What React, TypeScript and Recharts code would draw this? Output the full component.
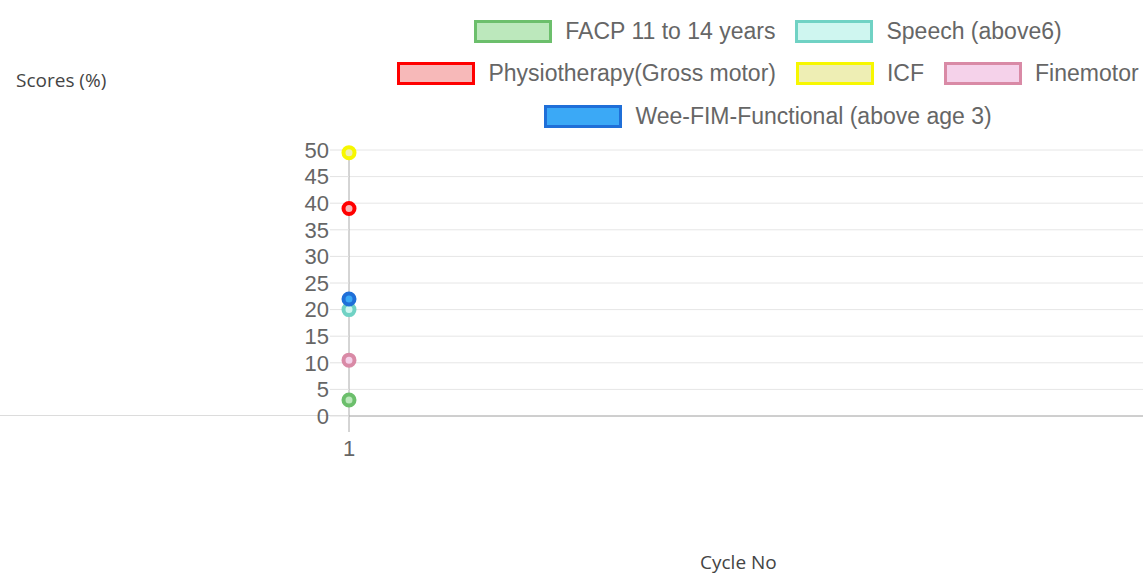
import React from 'react'
import { LineChart, Line, XAxis, YAxis, CartesianGrid } from 'recharts'

// cycle numbers and scores per assessment
const cycles = [1]
const facpScores = [3]
const speechScores = [20]
const physioScores = [39]
const icfScores = [49.5]
const finemotorScores = [10.5]
const weeFimScores = [22]
const yTicks = [0, 5, 10, 15, 20, 25, 30, 35, 40, 45, 50]

const series = [
  { key: 'facp', name: 'FACP 11 to 14 years', stroke: '#6cbf6c', fill: '#bce8bc' },
  { key: 'speech', name: 'Speech (above6)', stroke: '#70d2c4', fill: '#cff6f0' },
  { key: 'physio', name: 'Physiotherapy(Gross motor)', stroke: '#ff0000', fill: '#f7b9b9' },
  { key: 'icf', name: 'ICF', stroke: '#f7f700', fill: '#eeeeb4' },
  { key: 'fine', name: 'Finemotor', stroke: '#d98aa6', fill: '#f5d2ea' },
  { key: 'weefim', name: 'Wee-FIM-Functional (above age 3)', stroke: '#1f6fd8', fill: '#3ba9f6' },
]

const legendRows = [['facp', 'speech'], ['physio', 'icf', 'fine'], ['weefim']]

const data = cycles.map((c, i) => ({
  cycle: c,
  facp: facpScores[i],
  speech: speechScores[i],
  physio: physioScores[i],
  icf: icfScores[i],
  fine: finemotorScores[i],
  weefim: weeFimScores[i],
}))

const legendFont = '"Liberation Sans", Arial, sans-serif'

const ChartLegend = () => (
  <div style={{ position: 'absolute', left: 268, top: 10, width: 1000 }}>
    {legendRows.map((row, r) => (
      <div
        key={r}
        style={{ display: 'flex', justifyContent: 'center', alignItems: 'center', height: 42.5 }}
      >
        {row.map(k => {
          const s = series.find(x => x.key === k)!
          return (
            <div
              key={k}
              style={{ display: 'flex', alignItems: 'center', margin: '0 10px', flexShrink: 0, whiteSpace: 'nowrap' }}
            >
              <div
                style={{
                  width: 72,
                  height: 17,
                  border: `3px solid ${s.stroke}`,
                  background: s.fill,
                  marginRight: 13,
                }}
              />
              <span style={{ fontFamily: legendFont, fontSize: 23, color: '#666' }}>{s.name}</span>
            </div>
          )
        })}
      </div>
    ))}
  </div>
)

export default function App() {
  return (
    <div
      style={{
        position: 'absolute',
        left: 0,
        top: 0,
        width: 1143,
        height: 576,
        overflow: 'hidden',
        background: '#fff',
      }}
    >
      <div style={{ position: 'absolute', left: 0, top: 415, width: 349, height: 1, background: '#dcdcdc' }} />
      <div style={{ position: 'absolute', left: 0, top: 0 }}>
        <LineChart width={1143} height={576} data={data} margin={{ top: 150, right: 0, left: 0, bottom: 100 }}>
          <CartesianGrid stroke="#e6e6e6" vertical={false} />
          <XAxis
            type="number"
            dataKey="cycle"
            domain={[1, 2]}
            ticks={cycles}
            height={60}
            axisLine={{ stroke: '#aaaaaa' }}
            tickLine={{ stroke: '#aaaaaa' }}
            tickSize={16}
            tickMargin={8}
            tick={{ fill: '#666', fontSize: 22, fontFamily: legendFont }}
          />
          <YAxis
            width={349}
            domain={[0, 50]}
            ticks={yTicks}
            interval={0}
            axisLine={{ stroke: '#aaaaaa' }}
            tickLine={{ stroke: '#e2e2e2' }}
            tickSize={19}
            tickMargin={1}
            tick={{ fill: '#666', fontSize: 22, fontFamily: legendFont }}
          />
          {series.map(s => (
            <Line
              key={s.key}
              dataKey={s.key}
              name={s.name}
              stroke={s.stroke}
              strokeWidth={3}
              isAnimationActive={false}
              dot={{ r: 5.5, stroke: s.stroke, strokeWidth: 4, fill: s.fill }}
            />
          ))}
        </LineChart>
      </div>
      <ChartLegend />
      <div
        style={{
          position: 'absolute',
          left: 16,
          top: 67,
          fontFamily: '"Open Sans", sans-serif',
          fontSize: 19,
          color: '#444',
        }}
      >
        Scores (%)
      </div>
      <div
        style={{
          position: 'absolute',
          left: 700,
          top: 549,
          fontFamily: '"Open Sans", sans-serif',
          fontSize: 19,
          color: '#444',
        }}
      >
        Cycle No
      </div>
    </div>
  )
}
